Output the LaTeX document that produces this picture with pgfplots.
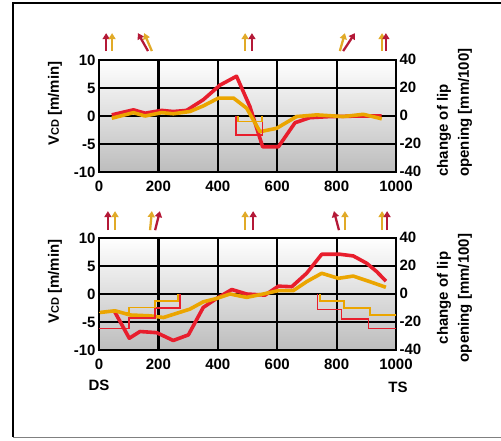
\documentclass[border=0pt]{standalone}
\usepackage{fontspec}
\setmainfont{Liberation Sans}
\usepackage{pgfplots}
\pgfplotsset{compat=1.18}
\usetikzlibrary{arrows.meta}
\definecolor{cred}{RGB}{232,30,45}
\definecolor{cyel}{RGB}{235,165,0}
\definecolor{ared}{RGB}{180,25,55}
\definecolor{ayel}{RGB}{225,170,40}
\newcommand{\lf}{\fontsize{15}{17}\selectfont\bfseries}
\tikzset{
  thk/.style={line width=3.6pt, line join=round},
  stp/.style={line width=1.6pt},
  arr/.style={line width=2.3pt, -{Triangle[width=7pt,length=6pt]}},
}
\pgfplotsset{
  basax/.style={
    width=297pt, height=112pt, scale only axis,
    xmin=0, xmax=1000,
    tick style={draw=none},
    tick label style={font=\lf},
    /pgf/number format/assume math mode=true,
    /pgf/number format/1000 sep={},
    clip=false,
  },
  lax/.style={
    basax, ymin=-10, ymax=10,
    xtick={0,200,...,1000}, ytick={-10,-5,0,5,10},
    grid=major, major grid style={black, line width=2.2pt},
    axis line style={black, line width=2.2pt},
    axis background/.style={shade, top color=white, middle color=black!7, bottom color=black!26},
    xticklabel style={yshift=-5pt},
  },
  rax/.style={
    basax, ymin=-40, ymax=40,
    axis y line*=right, axis x line=none,
    ytick={-40,-20,0,20,40},
    axis line style={draw=none},
    yticklabel style={yshift=1pt},
  },
}
\begin{document}
\begin{tikzpicture}[x=1pt,y=1pt]
\useasboundingbox (0,0) rectangle (501,440);
\draw[line width=1.5pt] (501,437) -- (13,437) -- (13,3);
\draw[line width=1pt, black!50] (13,3) -- (501,3);
% ---------- top panel ----------
\begin{axis}[lax, at={(99pt,268pt)}, anchor=south west]
\addplot[cred, thk] coordinates {(43,0.2) (116,1.1) (155,0.5) (211,1.0) (250,0.8) (295,1.0) (351,2.9) (407,5.5) (463,7.1) (508,1.7) (551,-5.5) (604,-5.5) (660,-1.2) (710,-0.3) (778,-0.1) (890,0) (952,0)};
\addplot[cyel, thk] coordinates {(43,-0.4) (116,0.6) (155,0) (211,0.6) (250,0.4) (306,0.8) (351,1.8) (402,3.2) (453,3.2) (497,1.4) (542,-2.8) (598,-2.2) (665,-0.1) (733,0.2) (822,-0.1) (890,0.3) (952,-0.5)};
\draw[arr, ared] (axis cs:24,11.6) -- (axis cs:24,14.8);
\draw[arr, ayel] (axis cs:44,11.6) -- (axis cs:44,14.8);
\draw[arr, ared] (axis cs:165,11.6) -- (axis cs:131,14.8);
\draw[arr, ayel] (axis cs:178,11.6) -- (axis cs:152,14.8);
\draw[arr, ayel] (axis cs:492,11.6) -- (axis cs:492,14.8);
\draw[arr, ared] (axis cs:515,11.6) -- (axis cs:515,14.8);
\draw[arr, ayel] (axis cs:811,11.6) -- (axis cs:828,14.8);
\draw[arr, ared] (axis cs:822,11.6) -- (axis cs:862,14.8);
\draw[arr, ayel] (axis cs:953,11.6) -- (axis cs:953,14.8);
\draw[arr, ared] (axis cs:966,11.6) -- (axis cs:966,14.8);
\end{axis}
\begin{axis}[rax, at={(99pt,268pt)}, anchor=south west]
\addplot[cred, stp] coordinates {(461,0) (461,-13.6) (551,-13.6) (551,0)};
\addplot[cyel, stp] coordinates {(469,0) (469,-4) (548,-4) (548,0)};
\end{axis}
% ---------- bottom panel ----------
\begin{axis}[lax, at={(99pt,90pt)}, anchor=south west]
\addplot[cred, thk] coordinates {(50,-2.9) (102,-7.9) (138,-6.7) (194,-6.9) (250,-8.3) (301,-7.3) (351,-2.4) (396,-0.8) (447,0.8) (497,0) (559,-0.2) (604,1.4) (649,1.3) (699,3.7) (750,7.1) (811,7.1) (856,6.8) (901,5.5) (935,4.0) (966,2.3)};
\addplot[cyel, thk] coordinates {(3,-3.3) (54,-3.0) (105,-3.75) (172,-3.9) (217,-4.2) (306,-2.7) (351,-1.4) (396,-0.8) (441,0) (497,-0.6) (553,0) (604,0.6) (654,0.6) (699,2.2) (750,3.7) (806,2.8) (856,3.2) (912,2.2) (966,1.2)};
\draw[arr, ared] (axis cs:30,11.4) -- (axis cs:30,14.8);
\draw[arr, ayel] (axis cs:54,11.4) -- (axis cs:54,14.8);
\draw[arr, ayel] (axis cs:172,11.4) -- (axis cs:178,14.8);
\draw[arr, ared] (axis cs:189,11.4) -- (axis cs:205,14.8);
\draw[arr, ayel] (axis cs:492,11.4) -- (axis cs:492,14.8);
\draw[arr, ared] (axis cs:519,11.4) -- (axis cs:519,14.8);
\draw[arr, ared] (axis cs:808,11.4) -- (axis cs:791,14.8);
\draw[arr, ayel] (axis cs:828,11.4) -- (axis cs:828,14.8);
\draw[arr, ayel] (axis cs:953,11.4) -- (axis cs:953,14.8);
\draw[arr, ared] (axis cs:970,11.4) -- (axis cs:970,14.8);
\end{axis}
\begin{axis}[rax, at={(99pt,90pt)}, anchor=south west]
\addplot[cred, stp] coordinates {(0,-24.5) (102,-24.5) (102,-17) (189,-17) (189,-10.2) (273,-10.2) (273,0)};
\addplot[cyel, stp] coordinates {(0,-13.1) (102,-13.1) (102,-9.5) (189,-9.5) (189,-4.8) (267,-4.8) (267,0)};
\addplot[cred, stp] coordinates {(736,0) (736,-11) (817,-11) (817,-17.9) (907,-17.9) (907,-24.5) (1000,-24.5)};
\addplot[cyel, stp] coordinates {(744,0) (744,-5) (825,-5) (825,-10.2) (912,-10.2) (912,-15) (1000,-15)};
\end{axis}
% ---------- labels ----------
\node[rotate=90, font=\lf] at (55,336.5) {V{\fontsize{11}{12}\selectfont\bfseries CD} [m/min]};
\node[rotate=90, font=\lf] at (55,158.5) {V{\fontsize{11}{12}\selectfont\bfseries CD} [m/min]};
\node[rotate=90, font=\lf, anchor=west, inner sep=0pt] at (444,263) {change of lip};
\node[rotate=90, font=\lf, anchor=west, inner sep=0pt] at (465,263) {opening [mm/100]};
\node[rotate=90, font=\lf] at (444,142) {change of lip};
\node[rotate=90, font=\lf] at (465,142) {opening [mm/100]};
\node[font=\lf] at (99,55) {DS};
\node[font=\lf] at (398,53) {TS};
\end{tikzpicture}
\end{document}
